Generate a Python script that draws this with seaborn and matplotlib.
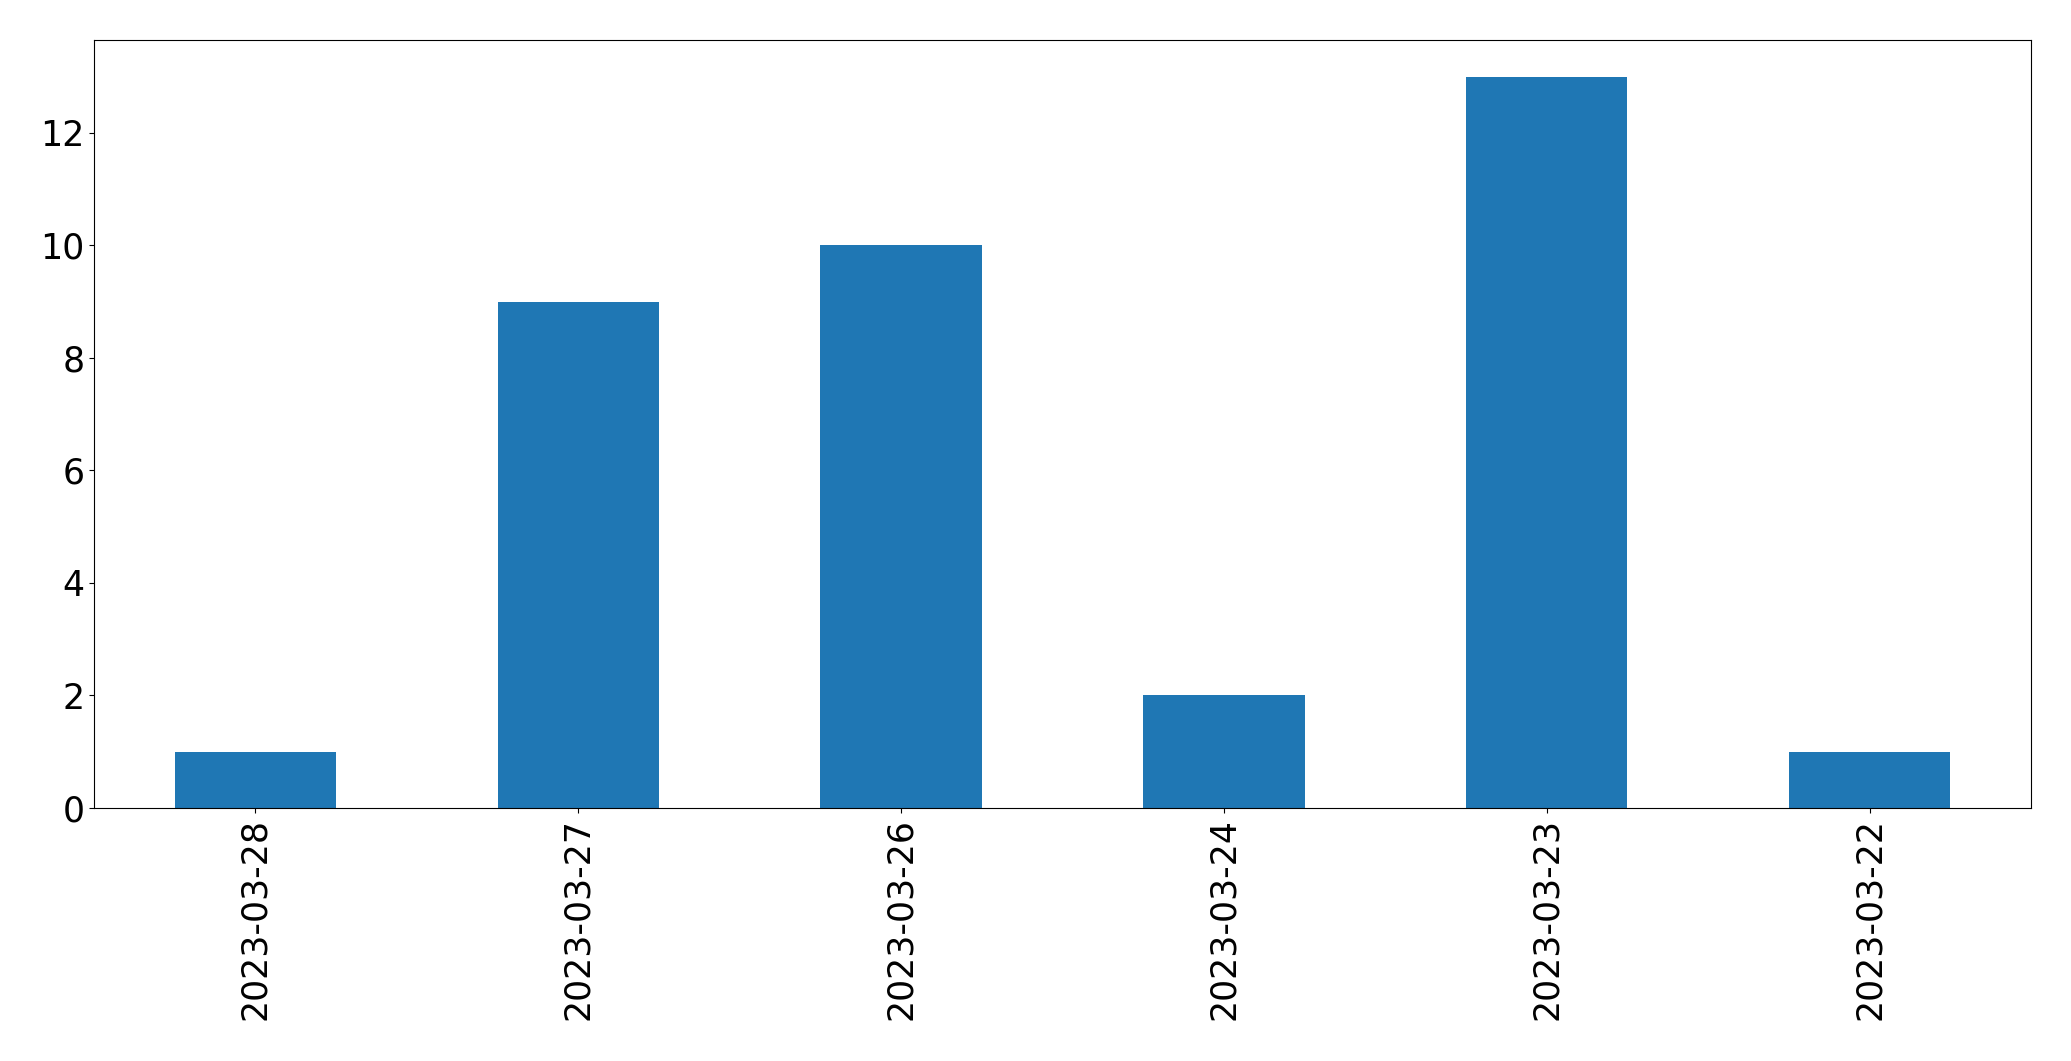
import pandas as pd
import seaborn as sns
import matplotlib
matplotlib.use('Agg')
import matplotlib.pyplot as plt


dates = ['2023-03-28', '2023-03-27', '2023-03-26', '2023-03-24', '2023-03-23', '2023-03-22']
counts = [1, 9, 10, 2, 13, 1]


def plot_counts(df):

    fig, ax = plt.subplots(figsize=(20.71, 10.61), dpi=100)

    sns.barplot(x='date', y='count', data=df, ax=ax, color='#1f77b4',
                saturation=1, width=0.5)

    ax.set_xlim(-0.5, len(df) - 0.5)
    ax.set_ylim(0, df['count'].max() * 1.05)
    ax.set_xlabel('')
    ax.set_ylabel('')
    ax.tick_params(axis='both', labelsize=25)
    plt.setp(ax.get_xticklabels(), rotation=90)

    plt.subplots_adjust(left=0.0454, right=0.9807, top=0.9623, bottom=0.2385)
    plt.savefig('out.png', dpi=100)
    plt.close()


if __name__ == '__main__':
    df = pd.DataFrame({'date': dates, 'count': counts})
    plot_counts(df)
